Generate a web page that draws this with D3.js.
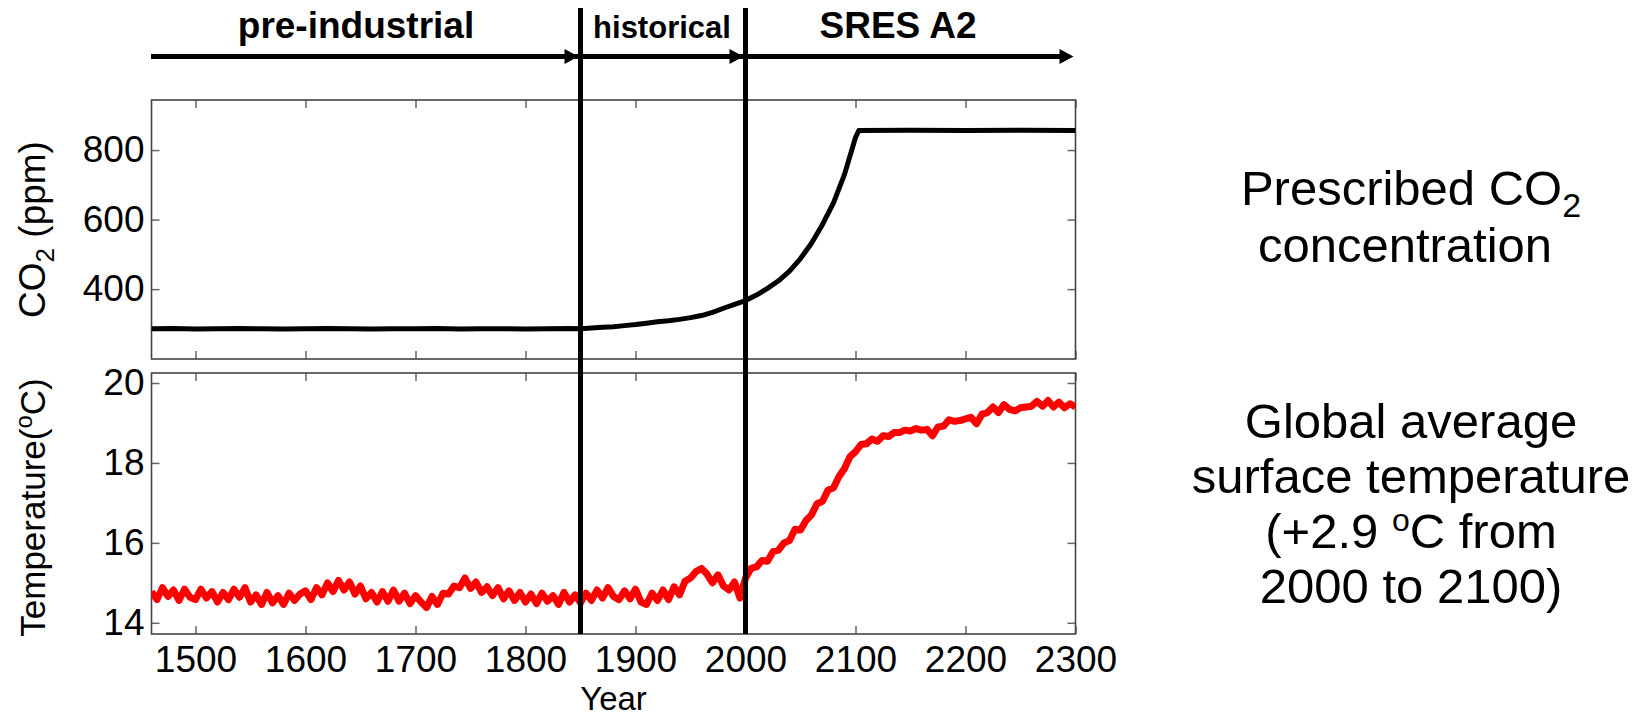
<!DOCTYPE html>
<html>
<head>
<meta charset="utf-8">
<script src="https://cdn.jsdelivr.net/npm/d3@7"></script>
<style>
  html, body { margin: 0; padding: 0; background: #fff; }
  svg { display: block; font-family: "Liberation Sans", Arial, sans-serif; }
</style>
</head>
<body>
<svg id="chart" width="1643" height="719"></svg>
<script>
// ---- data ----
const phaseNames = ["pre-industrial", "historical", "SRES A2"];
const phaseBounds = [1460, 1850, 2000, 2300];
const yearTicks = [1500, 1600, 1700, 1800, 1900, 2000, 2100, 2200, 2300];
const co2Ticks = [400, 600, 800];
const tempTicks = [14, 16, 18, 20];

const co2Years = [1460, 1480, 1500, 1520, 1540, 1560, 1580, 1600, 1620, 1640,
  1660, 1680, 1700, 1720, 1740, 1760, 1780, 1800, 1820, 1840, 1850,
  1860, 1870, 1880, 1890, 1900, 1910, 1920, 1930, 1940, 1950,
  1960, 1970, 1980, 1990, 2000, 2010, 2020, 2030, 2040, 2050,
  2060, 2070, 2080, 2090, 2100, 2103, 2150, 2200, 2250, 2300];
const co2Values = [286, 287, 285, 286, 287, 286, 285, 286, 287, 286,
  285, 286, 286, 287, 285, 286, 286, 285, 286, 287, 286,
  288, 290, 292, 295, 298, 302, 306, 309, 313, 318,
  324, 333, 345, 356, 367, 383, 402, 424, 452, 488,
  532, 586, 648, 730, 836, 856, 857, 856, 857, 856];

// global mean temperature, every 5 years from 1460 to 2300
const tempValues = [
  14.78, 14.58, 14.88, 14.66, 14.82, 14.56, 14.84, 14.64,               // 1460-1495
  14.58, 14.84, 14.62, 14.78, 14.52, 14.76, 14.58, 14.84, 14.64, 14.88, // 1500-1545
  14.52, 14.70, 14.46, 14.76, 14.50, 14.68, 14.46, 14.74, 14.56, 14.72, // 1550-1595
  14.80, 14.58, 14.88, 14.70, 15.00, 14.78, 15.06, 14.82, 15.02, 14.72, // 1600-1645
  14.92, 14.60, 14.76, 14.52, 14.78, 14.54, 14.82, 14.54, 14.74, 14.48, // 1650-1695
  14.68, 14.52, 14.38, 14.66, 14.46, 14.74, 14.72, 14.92, 14.88, 15.12, // 1700-1745
  14.86, 15.02, 14.76, 14.90, 14.68, 14.88, 14.60, 14.80, 14.56, 14.76, // 1750-1795
  14.52, 14.72, 14.48, 14.74, 14.54, 14.68, 14.46, 14.76, 14.52, 14.70, // 1800-1845
  14.50, 14.74, 14.56, 14.82, 14.62, 14.88, 14.66, 14.58, 14.80, 14.60, // 1850-1895
  14.84, 14.52, 14.46, 14.74, 14.56, 14.82, 14.58, 14.90, 14.70, 15.04, // 1900-1945
  15.12, 15.28, 15.36, 15.22, 15.00, 15.20, 14.92, 14.82, 15.02, 14.62, // 1950-1995
  15.12, 15.36, 15.40, 15.56, 15.54, 15.78, 15.82, 16.00, 16.06, 16.34, // 2000-2045
  16.32, 16.56, 16.70, 16.98, 17.04, 17.32, 17.38, 17.66, 17.86, 18.16, // 2050-2095
  18.28, 18.46, 18.48, 18.60, 18.54, 18.68, 18.66, 18.76, 18.76, 18.82, // 2100-2145
  18.80, 18.86, 18.82, 18.84, 18.68, 18.90, 18.92, 19.08, 19.04, 19.06, // 2150-2195
  19.10, 19.14, 18.98, 19.22, 19.26, 19.40, 19.26, 19.46, 19.34, 19.30, // 2200-2245
  19.38, 19.40, 19.42, 19.54, 19.42, 19.56, 19.40, 19.52, 19.38, 19.48, // 2250-2295
  19.40                                                                 // 2300
];
const tempYears = d3.range(1460, 2301, 5);

// ---- layout ----
const svg = d3.select("#chart");
const left = 151.5, right = 1075.5;
const top1 = 100, bot1 = 359;
const top2 = 373, bot2 = 634;
const font = 37;

const x = d3.scaleLinear().domain([1460, 2300]).range([left, right]);
const yCO2 = d3.scaleLinear().domain([199, 944]).range([bot1, top1]);
const yT = d3.scaleLinear().domain([13.72, 20.25]).range([bot2, top2]);

function panel(id, y, yTicks, top, bot, xLabels) {
  const g = svg.append("g");

  g.append("clipPath").attr("id", id)
    .append("rect")
    .attr("x", left).attr("y", top)
    .attr("width", right - left).attr("height", bot - top);

  const styleAxis = sel => {
    sel.select(".domain").remove();
    sel.selectAll(".tick line").attr("stroke", "#666").attr("stroke-width", 1.5);
    sel.selectAll(".tick text")
      .attr("fill", "#000")
      .style("font-size", font + "px")
      .style("font-family", "Liberation Sans, Arial, sans-serif");
  };

  g.append("g").attr("transform", `translate(0,${bot})`)
    .call(d3.axisBottom(x).tickValues(yearTicks).tickSize(-8).tickPadding(12)
      .tickFormat(xLabels ? d3.format("d") : ""))
    .call(styleAxis);
  g.append("g").attr("transform", `translate(0,${top})`)
    .call(d3.axisTop(x).tickValues(yearTicks).tickSize(-8).tickFormat(""))
    .call(styleAxis);
  g.append("g").attr("transform", `translate(${left},0)`)
    .call(d3.axisLeft(y).tickValues(yTicks).tickSize(-8).tickPadding(7)
      .tickFormat(d3.format("d")))
    .call(styleAxis);
  g.append("g").attr("transform", `translate(${right},0)`)
    .call(d3.axisRight(y).tickValues(yTicks).tickSize(-8).tickFormat(""))
    .call(styleAxis);

  g.append("rect")
    .attr("x", left).attr("y", top)
    .attr("width", right - left).attr("height", bot - top)
    .attr("fill", "none").attr("stroke", "#444").attr("stroke-width", 1.6);
  return g;
}

const p1 = panel("clip1", yCO2, co2Ticks, top1, bot1, false);
const p2 = panel("clip2", yT, tempTicks, top2, bot2, true);

const co2 = co2Years.map((yr, i) => ({ yr, v: co2Values[i] }));
const temp = tempYears.map((yr, i) => ({ yr, v: tempValues[i] }));

p1.append("path")
  .datum(co2)
  .attr("clip-path", "url(#clip1)")
  .attr("fill", "none")
  .attr("stroke", "#000")
  .attr("stroke-width", 5)
  .attr("stroke-linejoin", "round")
  .attr("d", d3.line().x(d => x(d.yr)).y(d => yCO2(d.v)));

p2.append("path")
  .datum(temp)
  .attr("clip-path", "url(#clip2)")
  .attr("fill", "none")
  .attr("stroke", "#ff0000")
  .attr("stroke-width", 7)
  .attr("stroke-linejoin", "round")
  .attr("d", d3.line().x(d => x(d.yr)).y(d => yT(d.v)));

// axis titles
svg.append("text")
  .attr("transform", `translate(45,${(top1 + bot1) / 2}) rotate(-90)`)
  .attr("text-anchor", "middle")
  .style("font-size", font + "px")
  .call(t => {
    t.append("tspan").text("CO");
    t.append("tspan").attr("dy", 9).style("font-size", "26px").text("2");
    t.append("tspan").attr("dy", -9).text(" (ppm)");
  });

svg.append("text")
  .attr("transform", `translate(45,${(top2 + bot2) / 2 + 4}) rotate(-90)`)
  .attr("text-anchor", "middle")
  .style("font-size", "35px")
  .call(t => {
    t.append("tspan").text("Temperature(");
    t.append("tspan").attr("dy", -13).style("font-size", "24px").text("o");
    t.append("tspan").attr("dy", 13).text("C)");
  });

svg.append("text")
  .attr("x", (left + right) / 2).attr("y", 710)
  .attr("text-anchor", "middle")
  .style("font-size", "33px")
  .text("Year");

// period arrows and dividers
const arrowY = 56.5;
svg.append("line")
  .attr("x1", x(phaseBounds[0]) - 0.5).attr("x2", x(phaseBounds[3]) - 8)
  .attr("y1", arrowY).attr("y2", arrowY)
  .attr("stroke", "#000").attr("stroke-width", 5);

phaseBounds.slice(1).forEach(b => {
  const tip = x(b) - 2;
  svg.append("path")
    .attr("d", `M${tip},${arrowY} L${tip - 14},${arrowY - 7.5} L${tip - 14},${arrowY + 7.5} Z`)
    .attr("fill", "#000");
});

phaseBounds.slice(1, 3).forEach(b => {
  svg.append("line")
    .attr("x1", x(b)).attr("x2", x(b))
    .attr("y1", 8).attr("y2", bot2)
    .attr("stroke", "#000").attr("stroke-width", 5);
});

const phaseSizes = [37, 31, 37];
const phaseCenters = [356, 662, 898];
phaseNames.forEach((name, i) => {
  svg.append("text")
    .attr("x", phaseCenters[i]).attr("y", 38)
    .attr("text-anchor", "middle")
    .style("font-size", phaseSizes[i] + "px")
    .style("font-weight", "bold")
    .text(name);
});

// notes on the right
const noteX = 1411;
const note1 = svg.append("text")
  .attr("text-anchor", "middle")
  .style("font-size", "49px");
note1.append("tspan").attr("x", noteX).attr("y", 205)
  .call(t => {
    t.append("tspan").text("Prescribed CO");
    t.append("tspan").attr("dy", 12).style("font-size", "34px").text("2");
  });
note1.append("tspan").attr("x", noteX - 6).attr("y", 262).text("concentration");

const note2Lines = ["Global average", "surface temperature", null, "2000 to 2100)"];
const note2Y = [438, 493, 548, 603];
const note2 = svg.append("text")
  .attr("text-anchor", "middle")
  .style("font-size", "49px");
note2Lines.forEach((ln, i) => {
  if (ln) {
    note2.append("tspan").attr("x", noteX).attr("y", note2Y[i]).text(ln);
  } else {
    const t = note2.append("tspan").attr("x", noteX).attr("y", note2Y[i]);
    t.append("tspan").text("(+2.9 ");
    t.append("tspan").attr("dy", -17).style("font-size", "32px").text("o");
    t.append("tspan").attr("dy", 17).text("C from");
  }
});
</script>
</body>
</html>
